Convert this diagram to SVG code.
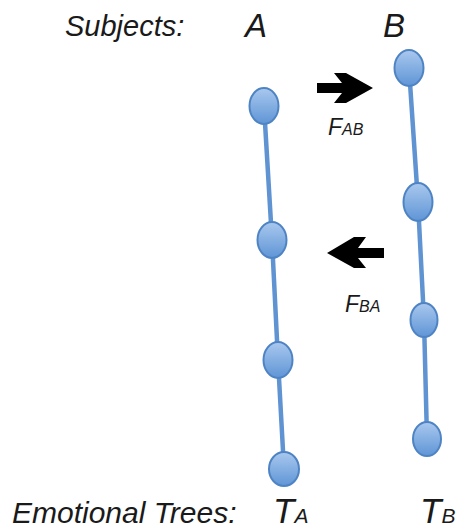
<svg xmlns="http://www.w3.org/2000/svg" width="459" height="530" viewBox="0 0 459 530">
<defs>
<linearGradient id="g" x1="0" y1="0" x2="0" y2="1">
<stop offset="0" stop-color="#a9c8ee"/>
<stop offset="1" stop-color="#5f95d6"/>
</linearGradient>
</defs>
<style>
.t{font-family:"Liberation Sans",Arial,sans-serif;font-style:italic;fill:#1a1a1a}
.n{fill:url(#g);stroke:#4f84c4;stroke-width:2}
.e{stroke:#5f93d2;stroke-width:4.5;fill:none}
</style>
<rect width="459" height="530" fill="#fff"/>
<text class="t" x="65" y="36" font-size="29">Subjects:</text>
<text class="t" x="245" y="37" font-size="33">A</text>
<text class="t" x="383" y="37" font-size="33">B</text>
<g id="connectors">
<polyline class="e" points="264,106 272,240 278,360 284,469"/>
<polyline class="e" points="409,68 418,202 424,320 427,439"/>
</g>
<g id="A1"><ellipse class="n" cx="264" cy="106" rx="14.5" ry="18"/></g>
<g id="A2"><ellipse class="n" cx="272" cy="240" rx="14.5" ry="18"/></g>
<g id="A3"><ellipse class="n" cx="278" cy="360" rx="14.5" ry="18"/></g>
<g id="A4"><ellipse class="n" cx="284" cy="469" rx="15" ry="17"/></g>
<g id="B1"><ellipse class="n" cx="409" cy="68" rx="14.5" ry="18"/></g>
<g id="B2"><ellipse class="n" cx="418" cy="202" rx="14.5" ry="19"/></g>
<g id="B3"><ellipse class="n" cx="424" cy="320" rx="13.5" ry="17"/></g>
<g id="B4"><ellipse class="n" cx="427" cy="439" rx="14" ry="17"/></g>
<g id="FAB">
<polygon points="317,83 342,83 334,73 346,73 373,88 346,103 334,103 342,93 317,93" fill="#000"/>
<text class="t" x="328" y="135" font-size="23">F<tspan font-size="16">AB</tspan></text>
</g>
<g id="FBA">
<polygon points="384,248 358,248 366,237 354,237 327,253 354,268 366,268 358,258 384,258" fill="#000"/>
<text class="t" x="345" y="312" font-size="23">F<tspan font-size="16">BA</tspan></text>
</g>
<text class="t" x="12" y="523" font-size="30">Emotional Trees:</text>
<text class="t" x="273" y="523" font-size="35">T<tspan font-size="21">A</tspan></text>
<text class="t" x="420" y="523" font-size="35">T<tspan font-size="21">B</tspan></text>
</svg>
